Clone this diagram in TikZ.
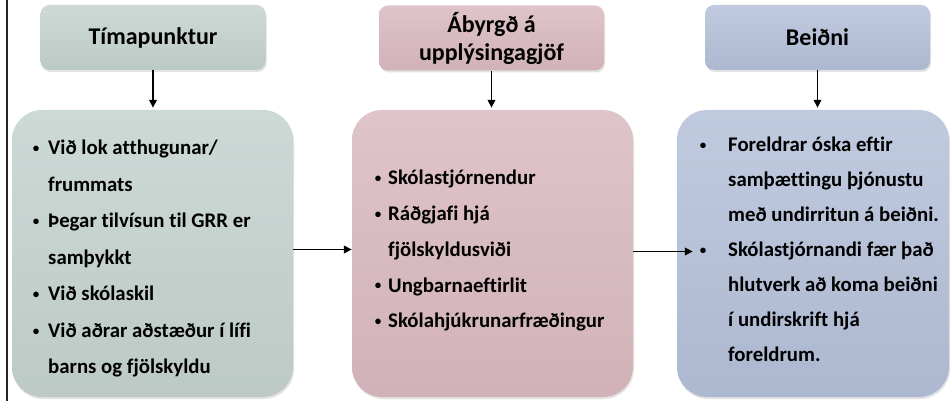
\documentclass[tikz,border=0pt]{standalone}
\usepackage{fontspec}
\setmainfont{Carlito}[Ligatures=NoCommon]
\usetikzlibrary{arrows.meta,shadows}
\definecolor{grn}{RGB}{196,210,206}
\definecolor{pnk}{RGB}{217,185,191}
\definecolor{blu}{RGB}{180,192,217}
\newcommand\mybul[1]{\leavevmode\llap{\makebox[#1][c]{\raisebox{2.2pt}{\fontsize{13}{13}\selectfont •}}}}
\tikzset{
  boxshade/.style={top color=#1!84!white, middle color=#1, bottom color=#1!96!black,
    drop shadow={opacity=0.22, shadow xshift=1pt, shadow yshift=-2pt}},
  titlebox/.style={boxshade=#1, rounded corners=9pt, minimum width=225pt,
    minimum height=65pt, inner sep=0pt, align=center,
    font=\bfseries\fontsize{24}{28}\selectfont},
  bigbox/.style={boxshade=#1, rounded corners=30pt, minimum height=287pt, inner sep=0pt},
  bodytxt/.style={inner sep=0pt, anchor=base west, font=\bfseries},
  conn/.style={-{Triangle[length=8pt,width=7.5pt]}, line width=1.8pt, black},
}
\begin{document}
\begin{tikzpicture}[x=1pt, y=-1pt]
\useasboundingbox (0,0) rectangle (951,401);
\fill[white] (0,0) rectangle (951,401);
\draw[line width=2pt, black!85] (6.5,0) -- (6.5,401);

% title boxes
\node[titlebox=grn] (h1) at (153,37.5) {Tímapunktur};
\node[titlebox=pnk] (h2) at (491.5,38) {Ábyrgð á\\upplýsingagjöf};
\node[titlebox=blu] (h3) at (817.5,37.5) {Beiðni};

% big boxes
\node[bigbox=grn, minimum width=281pt] (b1) at (152.5,253.5) {};
\node[bigbox=pnk, minimum width=281pt] (b2) at (492.5,253.5) {};
\node[bigbox=blu, minimum width=272pt] (b3) at (813,253.5) {};

% texts
\node[bodytxt] (t1) at (48,155) {\parbox[t]{250pt}{\bfseries\fontsize{20.8}{36.5}\selectfont
  \mybul{24pt}Við lok atthugunar/\\
  frummats\\
  \mybul{24pt}Þegar tilvísun til GRR er\\
  samþykkt\\
  \mybul{24pt}Við skólaskil\\
  \mybul{24pt}Við aðrar aðstæður í lífi\\
  barns og fjölskyldu}};
\node[bodytxt] (t2) at (388,185) {\parbox[t]{240pt}{\bfseries\fontsize{20.8}{35.7}\selectfont
  \mybul{20pt}Skólastjórnendur\\
  \mybul{20pt}Ráðgjafi hjá\\
  fjölskyldusviði\\
  \mybul{20pt}Ungbarnaeftirlit\\
  \mybul{20pt}Skólahjúkrunarfræðingur}};
\node[bodytxt] (t3) at (728,152) {\parbox[t]{220pt}{\bfseries\fontsize{20.8}{35}\selectfont
  \mybul{50pt}Foreldrar óska eftir\\
  samþættingu þjónustu\\
  með undirritun á beiðni.\\
  \mybul{50pt}Skólastjórnandi fær það\\
  hlutverk að koma beiðni\\
  í undirskrift hjá\\
  foreldrum.}};

% connectors
\draw[conn] (h1.south) -- ([yshift=2pt]h1.south |- b1.north);
\draw[conn] (h2.south) -- ([yshift=2pt]h2.south |- b2.north);
\draw[conn] (h3.south) -- ([yshift=2pt]h3.south |- b3.north);
\draw[conn] ([yshift=4pt]b1.east) -- ([yshift=4pt]b2.west);
\draw[conn] ([yshift=2pt]b2.east) -- ([xshift=16pt,yshift=2pt]b3.west);
\end{tikzpicture}
\end{document}
